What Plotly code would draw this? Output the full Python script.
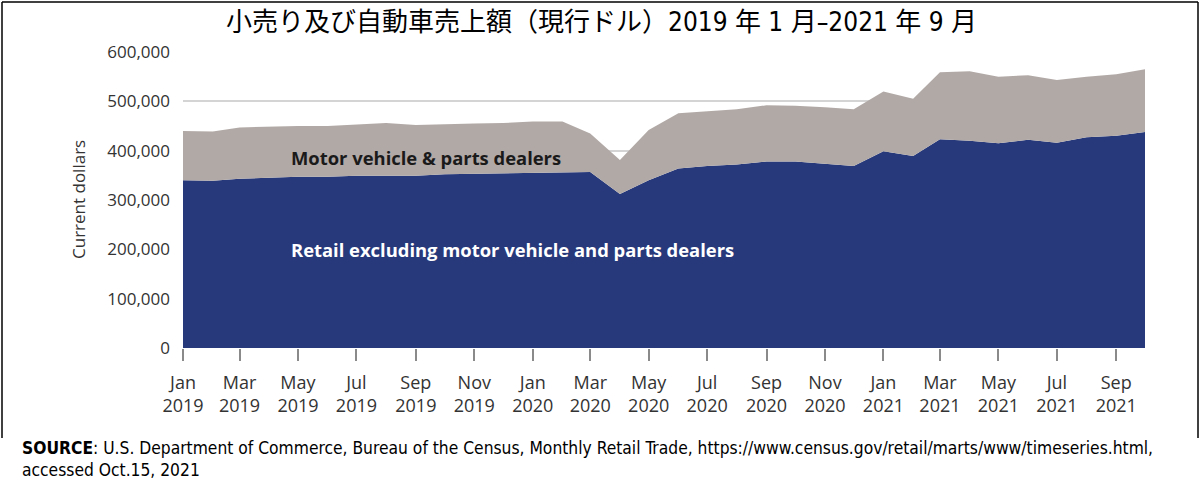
import plotly.graph_objects as go

# Monthly sales, Jan 2019 - Oct 2021 (millions of current dollars)
months = [
    "2019-01-01", "2019-02-01", "2019-03-01", "2019-04-01", "2019-05-01", "2019-06-01",
    "2019-07-01", "2019-08-01", "2019-09-01", "2019-10-01", "2019-11-01", "2019-12-01",
    "2020-01-01", "2020-02-01", "2020-03-01", "2020-04-01", "2020-05-01", "2020-06-01",
    "2020-07-01", "2020-08-01", "2020-09-01", "2020-10-01", "2020-11-01", "2020-12-01",
    "2021-01-01", "2021-02-01", "2021-03-01", "2021-04-01", "2021-05-01", "2021-06-01",
    "2021-07-01", "2021-08-01", "2021-09-01", "2021-10-01",
]
retail_ex_motor = [
    340000, 339000, 343000, 345000, 347000, 347000,
    349000, 349000, 349000, 352000, 353000, 354000,
    355000, 357000, 357000, 312000, 340000, 364000,
    369000, 372000, 378000, 378000, 374000, 369000,
    399000, 389000, 423000, 420000, 415000, 422000,
    416000, 427000, 430000, 438000,
]
motor_vehicle = [
    100000, 100000, 104000, 104000, 103000, 103000,
    104000, 107000, 103000, 102000, 102000, 102000,
    104000, 102000, 78000, 69000, 102000, 112000,
    111000, 112000, 114000, 113000, 114000, 115000,
    121000, 116000, 136000, 141000, 135000, 131000,
    127000, 123000, 125000, 127000,
]

tick_months = months[0:33:2]
tick_text = ["Jan<br>2019", "Mar<br>2019", "May<br>2019", "Jul<br>2019", "Sep<br>2019",
             "Nov<br>2019", "Jan<br>2020", "Mar<br>2020", "May<br>2020", "Jul<br>2020",
             "Sep<br>2020", "Nov<br>2020", "Jan<br>2021", "Mar<br>2021", "May<br>2021",
             "Jul<br>2021", "Sep<br>2021"]
y_ticks = [0, 100000, 200000, 300000, 400000, 500000, 600000]

BLUE = "#27397b"
TAUPE = "#b1a9a6"
SANS = "Open Sans, Lato, sans-serif"
NARROW = "Liberation Sans Narrow, DejaVu Sans Condensed, Noto Sans CJK JP, sans-serif"

W, H = 1203, 482
L, R, T, B = 183, 58, 52, 134
PW, PH = W - L - R, H - T - B


def px_x(p):
    return (p - L) / PW


def px_y(p):
    return (H - B - p) / PH


fig = go.Figure()
fig.add_trace(go.Scatter(
    x=months, y=retail_ex_motor, name="Retail excluding motor vehicle and parts dealers",
    stackgroup="sales", mode="lines", line=dict(width=0, color=BLUE),
    fillcolor=BLUE, hoverinfo="x+y",
))
fig.add_trace(go.Scatter(
    x=months, y=motor_vehicle, name="Motor vehicle & parts dealers",
    stackgroup="sales", mode="lines", line=dict(width=0, color=TAUPE),
    fillcolor=TAUPE, hoverinfo="x+y",
))

fig.update_layout(
    width=W, height=H,
    margin=dict(l=L, r=R, t=T, b=B),
    paper_bgcolor="white", plot_bgcolor="white",
    showlegend=False,
    font=dict(family=SANS, size=17, color="#333333"),
)
fig.update_xaxes(
    range=[months[0], months[-1]],
    tickvals=tick_months, ticktext=tick_text,
    ticks="outside", ticklen=12, tickwidth=2, tickcolor="#8a8a8a",
    showgrid=False, zeroline=False, showline=False,
    ticklabelstandoff=6,
    tickfont=dict(family=SANS, size=18, color="#333333"),
)
fig.update_yaxes(
    range=[0, 600000], tickvals=y_ticks, tickformat=",",
    showgrid=True, gridcolor="#d4d4d4", gridwidth=2,
    zeroline=False, showline=False, ticks="",
    ticklabelstandoff=12,
    tickfont=dict(family=SANS, size=17, color="#333333"),
    layer="below traces",
)

annotations = [
    dict(text="小売り及び自動車売上額（現行ドル）2019 年 1 月–2021 年 9 月",
         x=px_x(601), y=px_y(22), xanchor="center", yanchor="middle",
         font=dict(family=NARROW, size=26, color="#000000")),
    dict(text="Current dollars", x=px_x(78), y=px_y(200), textangle=-90,
         xanchor="center", yanchor="middle",
         font=dict(family=SANS, size=17, color="#333333")),
    dict(text="<b>Motor vehicle &amp; parts dealers</b>", x=px_x(289), y=px_y(157),
         xanchor="left", yanchor="middle",
         font=dict(family=SANS, size=18.4, color="#1a1a1a")),
    dict(text="<b>Retail excluding motor vehicle and parts dealers</b>",
         x=px_x(289), y=px_y(249), xanchor="left", yanchor="middle",
         font=dict(family=SANS, size=18.4, color="#ffffff")),
    dict(text="<b>SOURCE</b>: U.S. Department of Commerce, Bureau of the Census, Monthly Retail Trade, "
              "https://www.census.gov/retail/marts/www/timeseries.html,<br>accessed Oct.15, 2021",
         x=px_x(20), y=px_y(436), xanchor="left", yanchor="top", align="left",
         font=dict(family=NARROW, size=17.3, color="#000000")),
]
for a in annotations:
    a.update(xref="paper", yref="paper", showarrow=False)
fig.update_layout(annotations=annotations)

# Frame around the chart area
frame = dict(color="#000000", width=1.5)
fig.update_layout(shapes=[
    dict(type="line", xref="paper", yref="paper",
         x0=px_x(2), x1=px_x(1198), y0=px_y(2), y1=px_y(2), line=frame),
    dict(type="line", xref="paper", yref="paper",
         x0=px_x(2), x1=px_x(2), y0=px_y(2), y1=px_y(438), line=frame),
    dict(type="line", xref="paper", yref="paper",
         x0=px_x(1198), x1=px_x(1198), y0=px_y(2), y1=px_y(438), line=frame),
])

fig.write_html("out.html")
